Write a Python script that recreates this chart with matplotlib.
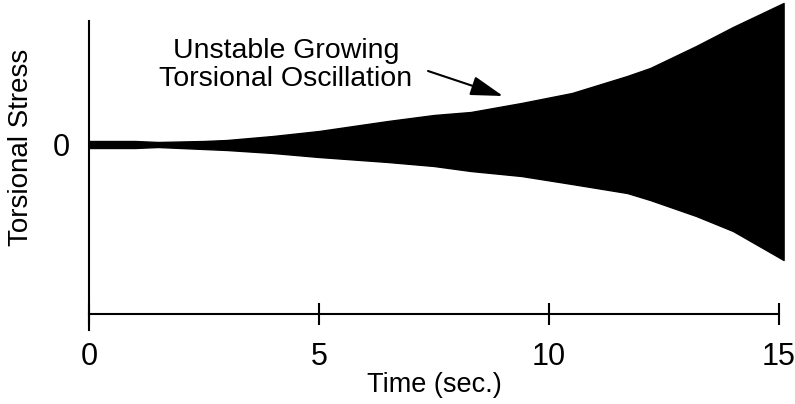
import numpy as np
import matplotlib
matplotlib.use("Agg")
import matplotlib.pyplot as plt

plt.rcParams.update({
    "font.family": ["Liberation Sans", "DejaVu Sans"],
    "font.size": 20,
})

# envelope of the torsional stress oscillation
t_env = [0.0, 1.0, 1.5, 2.5, 3.0, 4.0, 5.0, 6.5, 7.5, 8.3, 9.4, 10.5, 11.7, 12.2, 13.2, 14.0, 15.1]
upper = [0.04, 0.04, 0.03, 0.04, 0.05, 0.09, 0.14, 0.24, 0.30, 0.33, 0.42, 0.52, 0.69, 0.77, 0.99, 1.18, 1.42]
lower = [-0.03, -0.03, -0.02, -0.04, -0.05, -0.08, -0.12, -0.17, -0.21, -0.26, -0.31, -0.39, -0.48, -0.55, -0.71, -0.86, -1.15]

x_ticks = [0, 5, 10, 15]
y_ticks = [0]
axis_y = -1.69  # where the time axis crosses

W, H = 795, 404
fig = plt.figure(figsize=(W / 100, H / 100), dpi=100)
ax = fig.add_axes([89 / W, (H - 330) / H, (779 - 89) / W, (330 - 21) / H])

ax.fill_between(t_env, lower, upper, color="black", linewidth=1.0, edgecolor="black", clip_on=False)

ax.set_xlim(0, 15)
ax.set_ylim(-1.85, 1.24)

ax.spines["top"].set_visible(False)
ax.spines["right"].set_visible(False)
ax.spines["left"].set_linewidth(1.5)
ax.spines["bottom"].set_linewidth(1.5)
ax.spines["bottom"].set_position(("data", axis_y))

ax.set_xticks(x_ticks)
ax.set_xticklabels([str(v) for v in x_ticks])
ax.set_yticks(y_ticks)
ax.set_yticklabels(["0"])
ax.tick_params(axis="x", direction="inout", length=16, width=1.5, pad=12, labelsize=22)
ax.tick_params(axis="y", length=0, pad=14, labelsize=22)

ax.set_xlabel("Time (sec.)", fontsize=19.5, labelpad=0)
ax.set_ylabel("Torsional Stress", fontsize=20)
ax.yaxis.set_label_coords(-55 / 690, (330 - 147) / 309)

ax.text(4.28, 0.80, "Unstable Growing\nTorsional Oscillation", ha="center", va="center",
        fontsize=20.5, linespacing=1.12)
ax.annotate("", xy=(9.0, 0.49), xytext=(7.37, 0.74), annotation_clip=False,
            arrowprops=dict(arrowstyle="-|>,head_length=1.0,head_width=0.3", color="black", lw=1.5,
                            shrinkA=0, shrinkB=0))

fig.savefig("out.png", dpi=100)
